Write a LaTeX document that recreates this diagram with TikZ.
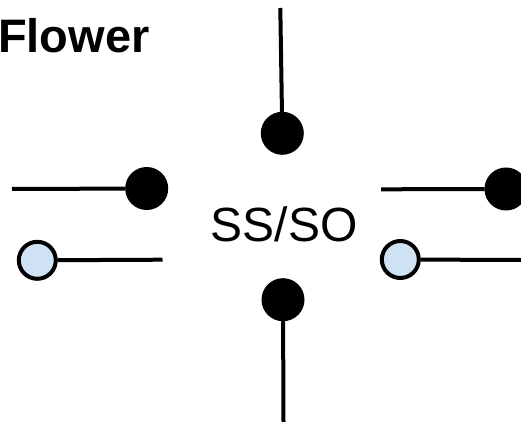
\documentclass[tikz,border=0pt]{standalone}
\usepackage{fontspec}
\setmainfont{Liberation Sans}
\definecolor{dotblue}{HTML}{CFE2F3}
\begin{document}
\begin{tikzpicture}[x=1pt,y=-1pt,
  blackdot/.style={circle,draw=black,fill=black,line width=3pt,minimum size=40pt,inner sep=0pt},
  bluedot/.style={circle,draw=black,fill=dotblue,line width=4pt,minimum size=37pt,inner sep=0pt},
  stem/.style={draw=black,line width=4pt}]
\useasboundingbox (0,0) rectangle (521,422);
\node[anchor=base west,inner sep=0pt,font=\fontsize{47}{47}\selectfont\bfseries] (title) at (-2,53) {Flower};
\node[anchor=base,inner sep=0pt,font=\fontsize{48}{48}\selectfont] (label) at (284,241.5) {SS/SO};
% dots
\node[blackdot] (top) at (282.3,133.3) {};
\node[blackdot] (bottom) at (283,299.7) {};
\node[blackdot] (left) at (146.7,188.5) {};
\node[blackdot] (right) at (506,189) {};
\node[bluedot] (lblue) at (37.3,260.3) {};
\node[bluedot] (rblue) at (400.3,259.5) {};
% free ends
\coordinate (topend) at (280.3,8);
\coordinate (bottomend) at (283.5,422);
\coordinate (leftend) at (12,189);
\coordinate (rightend) at (381,189.3);
\coordinate (lblueend) at (162.5,259.7);
\coordinate (rblueend) at (521,260);
\draw[stem] (topend) -- (top);
\draw[stem] (bottom) -- (bottomend);
\draw[stem] (leftend) -- (left);
\draw[stem] (rightend) -- (right);
\draw[stem] (lblue) -- (lblueend);
\draw[stem] (rblue) -- (rblueend);
\end{tikzpicture}
\end{document}
